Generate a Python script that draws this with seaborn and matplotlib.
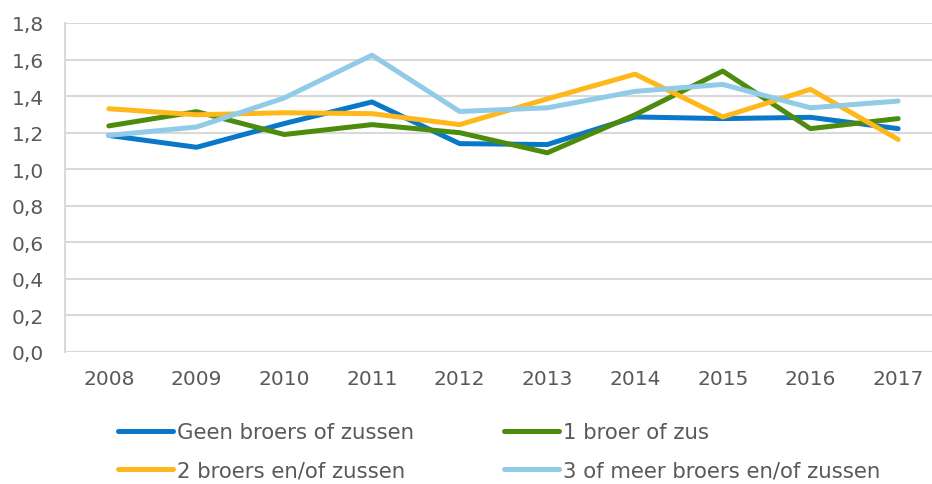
import numpy as np
import pandas as pd
import matplotlib
matplotlib.use("Agg")
import matplotlib.pyplot as plt
import seaborn as sns

# Data
years = [2008, 2009, 2010, 2011, 2012, 2013, 2014, 2015, 2016, 2017]
geen = [1.185, 1.12, 1.25, 1.368, 1.14, 1.135, 1.286, 1.277, 1.284, 1.222]
een = [1.237, 1.315, 1.19, 1.244, 1.2, 1.09, 1.298, 1.537, 1.222, 1.277]
twee = [1.331, 1.298, 1.309, 1.304, 1.244, 1.385, 1.52, 1.286, 1.437, 1.163]
drie = [1.185, 1.231, 1.39, 1.624, 1.316, 1.336, 1.426, 1.464, 1.336, 1.373]

series_names = ["Geen broers of zussen", "1 broer of zus",
                "2 broers en/of zussen", "3 of meer broers en/of zussen"]
colors = ["#0a78c8", "#4c8b0c", "#ffb81c", "#92cbe8"]

y_ticks = [0.0, 0.2, 0.4, 0.6, 0.8, 1.0, 1.2, 1.4, 1.6, 1.8]
y_labels = ["0,0", "0,2", "0,4", "0,6", "0,8", "1,0", "1,2", "1,4", "1,6", "1,8"]

df = pd.DataFrame({
    "jaar": years * 4,
    "waarde": geen + een + twee + drie,
    "groep": [n for n in series_names for _ in years],
})

sns.set_style("white")
plt.rcParams["font.family"] = ["DejaVu Sans"]
text_col = "#595959"
grid_col = "#d9d9d9"

fig = plt.figure(figsize=(9.32, 4.85), dpi=100)
ax = fig.add_axes([65 / 932, (485 - 353) / 485, 877 / 932, (353 - 24) / 485])

sns.lineplot(data=df, x="jaar", y="waarde", hue="groep", hue_order=series_names,
             palette=colors, linewidth=3.6, ax=ax, legend=False,
             solid_capstyle="round", solid_joinstyle="round")

ax.set_xlim(2007.5, 2017.5)
ax.set_ylim(0, 1.8)
ax.set_yticks(y_ticks)
ax.set_yticklabels(y_labels)
ax.set_xticks(years)
ax.set_xticklabels([str(y) for y in years])
ax.set_xlabel("")
ax.set_ylabel("")

ax.yaxis.grid(True, color=grid_col, linewidth=1.5, solid_capstyle="butt")
ax.xaxis.grid(False)
ax.set_axisbelow(True)

for s in ["top", "right", "bottom"]:
    ax.spines[s].set_visible(False)
ax.spines["left"].set_color(grid_col)
ax.spines["left"].set_linewidth(1.5)
ax.tick_params(axis="both", length=0, labelsize=14.5, labelcolor=text_col)
ax.tick_params(axis="y", pad=15)
ax.tick_params(axis="x", pad=12)

# legend is filled column by column, so reorder to get row-wise layout
order = [0, 2, 1, 3]
handles = [plt.Line2D([], [], color=colors[i], linewidth=3.6, solid_capstyle="round")
           for i in order]
labels = [series_names[i] for i in order]
fig.legend(handles, labels, loc="center", ncol=2,
           bbox_to_anchor=(499 / 932, 1 - 452 / 485), frameon=False,
           fontsize=15.3, labelcolor=text_col, handlelength=2.6,
           handletextpad=0.2, columnspacing=4.2, labelspacing=0.85)

fig.savefig("out.png", dpi=100)
